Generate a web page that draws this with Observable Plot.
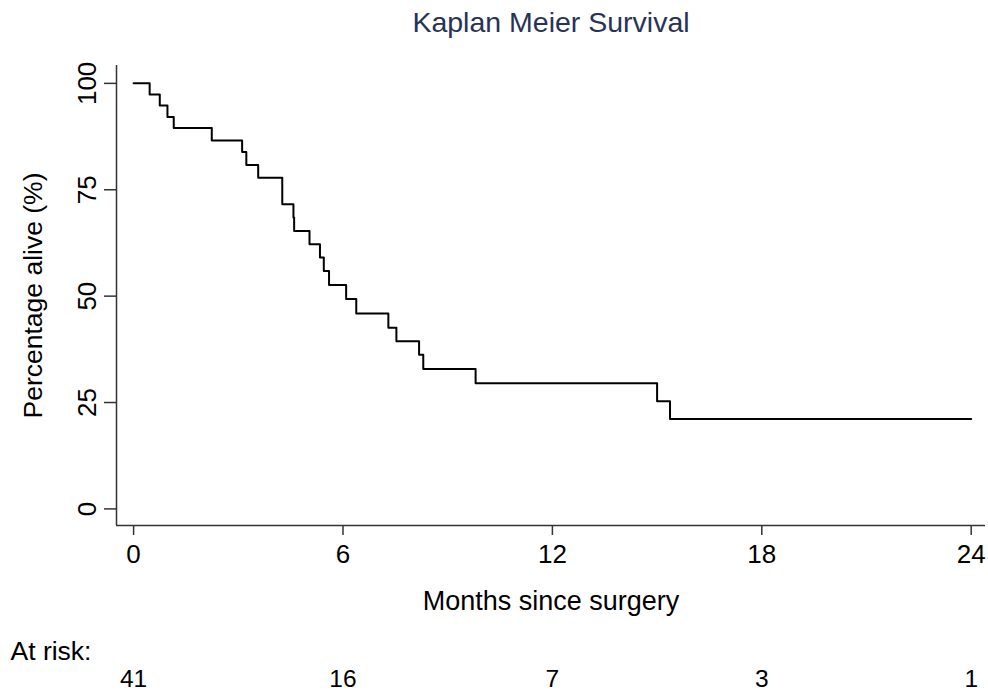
<!DOCTYPE html>
<html>
<head>
<meta charset="utf-8">
<script src="https://cdn.jsdelivr.net/npm/d3@7"></script>
<script src="https://cdn.jsdelivr.net/npm/@observablehq/plot@0.6"></script>
<style>
  html, body { margin: 0; padding: 0; background: #fff; }
  #chart { width: 988px; height: 696px; }
</style>
</head>
<body>
<div id="chart"></div>
<script>
// Kaplan–Meier step data (months since surgery, percentage alive)
const months   = [0, 0.46, 0.75, 0.97, 1.15, 2.24, 3.11, 3.23, 3.57, 4.26, 4.58, 4.60, 5.04, 5.34, 5.45, 5.60, 6.09, 6.38, 7.30, 7.53, 8.18, 8.30, 9.80, 15.00, 15.37, 24];
const survival = [100, 97.4, 94.8, 92.1, 89.5, 86.6, 83.9, 80.8, 77.8, 71.6, 68.5, 65.3, 62.2, 59.1, 55.9, 52.6, 49.3, 45.9, 42.6, 39.4, 36.2, 32.9, 29.5, 25.3, 21.1, 21.1];

const xTicks = [0, 6, 12, 18, 24];
const yTicks = [0, 25, 50, 75, 100];
const riskMonths = [0, 6, 12, 18, 24];
const atRisk = [41, 16, 7, 3, 1];

const xDomain = [-0.49, 24.41];
const yDomain = [-3.9, 104.2];

const km = months.map((m, i) => ({month: m, pct: survival[i]}));

const font = "'Liberation Sans', Arial, Helvetica, sans-serif";
const mid = {textAnchor: "middle", lineAnchor: "middle"};

const chart = Plot.plot({
  width: 988,
  height: 696,
  marginLeft: 116,
  marginRight: 3,
  marginTop: 65,
  marginBottom: 171,
  style: {fontFamily: font, background: "#fff", color: "#000"},
  x: {domain: xDomain, axis: null},
  y: {domain: yDomain, axis: null},
  marks: [
    Plot.axisX({ticks: xTicks, tickSize: 10, tickFormat: () => "", stroke: "#333", strokeWidth: 1.5, label: null}),
    Plot.axisY({ticks: yTicks, tickSize: 12, tickFormat: () => "", stroke: "#333", strokeWidth: 1.5, label: null}),
    Plot.text(xTicks, {x: d => d, text: d => String(d), frameAnchor: "bottom", dy: 29, fontSize: 26, fill: "#000", ...mid}),
    Plot.text(yTicks, {y: d => d, text: d => String(d), frameAnchor: "left", dx: -29, rotate: -90, fontSize: 26, fill: "#000", ...mid}),
    Plot.ruleX([xDomain[0]], {stroke: "#333", strokeWidth: 1.5}),
    Plot.ruleY([yDomain[0]], {stroke: "#333", strokeWidth: 1.5}),
    Plot.line(km, {x: "month", y: "pct", curve: "step-after", stroke: "#000", strokeWidth: 2}),
    Plot.text(["Kaplan Meier Survival"], {text: d => d, frameAnchor: "top", dy: -43, fontSize: 28.5, fill: "#283259", ...mid}),
    Plot.text(["Percentage alive (%)"], {text: d => d, frameAnchor: "left", dx: -83, rotate: -90, fontSize: 26.5, fill: "#000", ...mid}),
    Plot.text(["Months since surgery"], {text: d => d, frameAnchor: "bottom", dy: 76, fontSize: 27, fill: "#000", ...mid}),
    Plot.text(["At risk:"], {text: d => d, frameAnchor: "bottom-left", dx: -106, dy: 126, fontSize: 26.5, fill: "#000", textAnchor: "start", lineAnchor: "middle"}),
    Plot.text(riskMonths, {x: d => d, text: (d, i) => String(atRisk[i]), frameAnchor: "bottom", dy: 154, fontSize: 24.5, fill: "#000", ...mid})
  ]
});

document.getElementById("chart").appendChild(chart);
</script>
</body>
</html>
